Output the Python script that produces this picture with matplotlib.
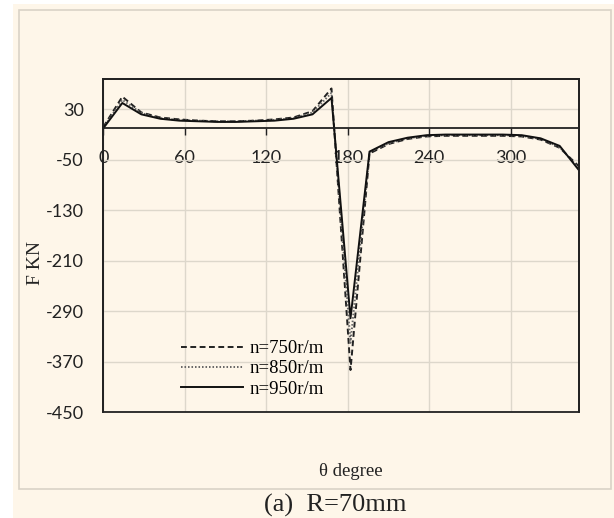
import matplotlib
matplotlib.use("Agg")
import matplotlib.pyplot as plt
from matplotlib.patches import Rectangle

# angle (degree) and force (KN)
theta = [0, 14, 28, 42, 56, 70, 84, 98, 112, 126, 140, 154, 168,
         182, 196, 210, 224, 238, 252, 266, 280, 294, 308, 322, 336, 350]
f_750 = [2, 50, 25, 17, 14, 12, 11, 11, 12, 14, 17, 27, 63,
         -383, -40, -25, -17, -13, -12, -12, -12, -12, -13, -18, -31, -60]
f_850 = [1, 45, 24, 16, 13, 12, 11, 11, 12, 13, 16, 25, 56,
         -340, -38, -24, -16, -12, -11, -11, -11, -11, -12, -17, -30, -63]
f_950 = [0, 40, 22, 15, 12, 11, 10, 10, 11, 12, 15, 22, 48,
         -301, -37, -22, -15, -11, -10, -10, -10, -10, -11, -16, -28, -66]
labels = ["n=750r/m", "n=850r/m", "n=950r/m"]
xticks = [0, 60, 120, 180, 240, 300]
yticks = [30, -50, -130, -210, -290, -370, -450]

cream = "#FEF6E9"
grid_col = "#DDD7CB"
serif = "Liberation Serif"
plt.rcParams["axes.unicode_minus"] = False

fig = plt.figure(figsize=(6.14, 5.18), dpi=100)
fig.patch.set_facecolor("white")
# chart background and its thin border
fig.patches.append(Rectangle((13 / 614, 0), 1 - 13 / 614, 514 / 518,
                             transform=fig.transFigure, facecolor=cream,
                             edgecolor="none", zorder=-10))
fig.patches.append(Rectangle((19 / 614, 29 / 518), 591.7 / 614, 479 / 518,
                             transform=fig.transFigure, facecolor="none",
                             edgecolor="#D9D3C7", lw=1.2, zorder=-9))

ax = fig.add_axes([103.3 / 614, 105.7 / 518, 475.4 / 614, 333.3 / 518])
ax.set_facecolor(cream)

ax.plot(theta, f_750, color="#222222", lw=1.4, dashes=(3, 1.8), label=labels[0])
ax.plot(theta, f_850, color="#666666", lw=1.4, dashes=(0.8, 1.0), label=labels[1])
ax.plot(theta, f_950, color="#111111", lw=1.4, label=labels[2])

ax.set_xlim(0, 350)
ax.set_ylim(-450, 78)
ax.set_xticks(xticks)
ax.set_yticks(yticks)
ax.grid(True, color=grid_col, lw=1.0)
ax.set_axisbelow(True)

# x axis crosses at zero, keep a full frame around the plot
ax.spines["bottom"].set_position(("data", 0))
for s in ["left", "right", "top", "bottom"]:
    ax.spines[s].set_color("#222222")
    ax.spines[s].set_linewidth(1.3)
ax.add_patch(Rectangle((0, 0), 1, 1, transform=ax.transAxes, fill=False,
                       edgecolor="#222222", lw=1.3, zorder=5, clip_on=False))

ax.tick_params(axis="x", direction="out", length=5, width=1, color="#222222",
               pad=11, labelsize=13, labelcolor="#222222")
ax.tick_params(axis="y", length=0, pad=14, labelsize=13, labelcolor="#222222")
for t in ax.get_xticklabels() + ax.get_yticklabels():
    t.set_family("Lato")

leg = ax.legend(loc="upper left", bbox_to_anchor=(180.7 / 614, 1 - 340 / 518),
                bbox_transform=fig.transFigure, frameon=False, borderpad=0,
                borderaxespad=0, handlelength=3.3, handletextpad=0.35,
                labelspacing=0.17, prop={"family": serif, "size": 13.5})

fig.text(36 / 614, 1 - 263 / 518, "F KN", rotation=90, ha="center", va="center",
         family=serif, fontsize=14, color="#222222")
fig.text(351 / 614, 1 - 471 / 518, "θ degree", ha="center", va="center",
         family=serif, fontsize=13.5, color="#222222")
fig.text(335 / 614, 1 - 505 / 518, "(a)  R=70mm", ha="center", va="center",
         family=serif, fontsize=19, color="#222222")

fig.savefig("out.png", dpi=100)
